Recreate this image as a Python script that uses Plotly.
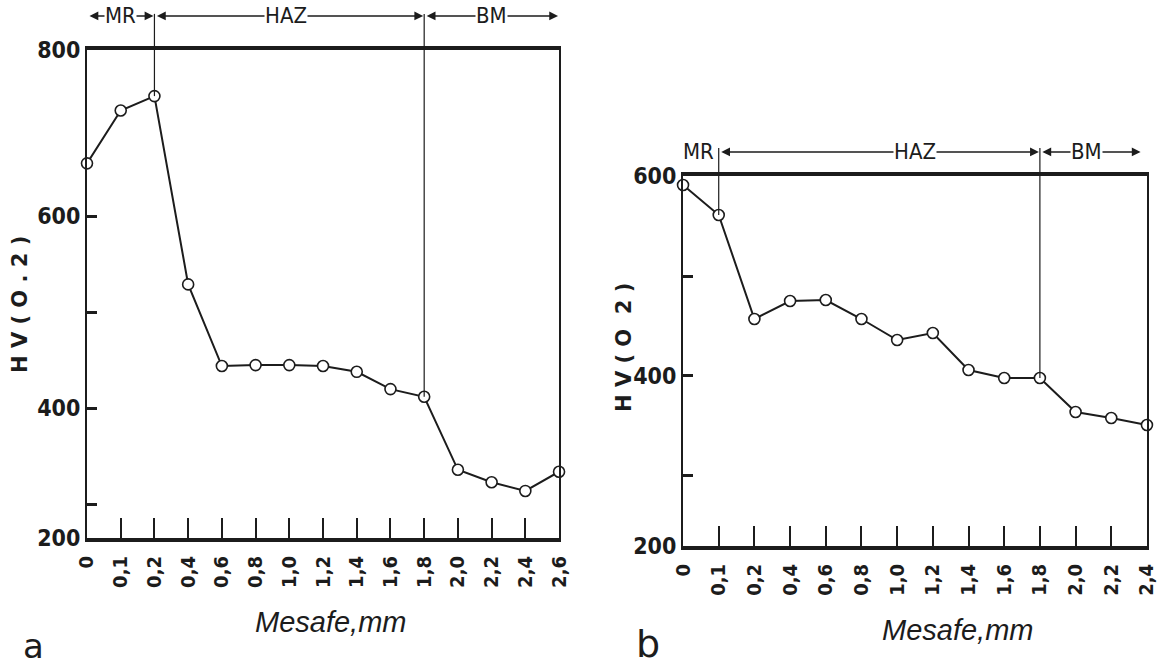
import plotly.graph_objects as go

# ---------------- data ----------------
# Panel a
xa_labels = ["0", "0,1", "0,2", "0,4", "0,6", "0,8", "1,0", "1,2", "1,4",
             "1,6", "1,8", "2,0", "2,2", "2,4", "2,6"]
hv_a = [655, 710, 725, 529, 444, 445, 445, 444, 438, 420, 412, 336, 323, 314, 334]

# Panel b
xb_labels = ["0", "0,1", "0,2", "0,4", "0,6", "0,8", "1,0", "1,2", "1,4",
             "1,6", "1,8", "2,0", "2,2", "2,4"]
hv_b = [591, 561, 457, 475, 476, 457, 436, 443, 406, 398, 398, 364, 358, 351]

# zone boundaries (MR/HAZ, HAZ/BM)
bounds_a = ["0,2", "1,8"]
bounds_b = ["0,1", "1,8"]

# y-axis tick labels as printed
ya_ticktext = ["200", "", "400", "", "600", "800"]
yb_ticktext = ["200", "", "400", "", "600"]
inner_ticks = [300, 400, 500, 600]

# ---------------- style ----------------
INK = "#1c1c1c"
COND = "DejaVu Sans Condensed, Liberation Sans Narrow, DejaVu Sans, sans-serif"
YA_RANGE = [265, 773]
YB_RANGE = [230, 600]

fig = go.Figure()

marker = dict(symbol="circle", size=11, color="white", line=dict(color=INK, width=1.6))
fig.add_trace(go.Scatter(x=xa_labels, y=hv_a, mode="lines+markers", xaxis="x", yaxis="y",
                         line=dict(color=INK, width=2), marker=marker, cliponaxis=False,
                         showlegend=False))
fig.add_trace(go.Scatter(x=xb_labels, y=hv_b, mode="lines+markers", xaxis="x2", yaxis="y2",
                         line=dict(color=INK, width=2), marker=marker, cliponaxis=False,
                         showlegend=False))

xcommon = dict(type="category", showline=True, mirror=True, linecolor=INK, linewidth=4,
               ticks="inside", ticklen=20, tickwidth=2, tickcolor=INK, tickangle=-90,
               showgrid=False, zeroline=False, automargin=False,
               tickfont=dict(family=COND, size=20, color=INK, weight="bold"),
               ticklabelstandoff=6)
ycommon = dict(showline=True, mirror=True, linecolor=INK, linewidth=2,
               ticks="inside", ticklen=10, tickwidth=3, tickcolor=INK,
               showgrid=False, zeroline=False, automargin=False,
               tickfont=dict(family=COND, size=23, color=INK, weight="bold"))

fig.update_layout(
    width=1163, height=671,
    margin=dict(l=0, r=0, t=0, b=0, autoexpand=False),
    paper_bgcolor="white", plot_bgcolor="white",
    xaxis=dict(domain=[0.0748, 0.4807], range=[0, len(xa_labels) - 1],
               categoryorder="array", categoryarray=xa_labels, anchor="y", **xcommon),
    yaxis=dict(domain=[0.1982, 0.9255], range=YA_RANGE, anchor="x",
               tickvals=[YA_RANGE[0]] + inner_ticks + [YA_RANGE[1]],
               ticktext=ya_ticktext, **ycommon),
    xaxis2=dict(domain=[0.5873, 0.9862], range=[0, len(xb_labels) - 1],
                categoryorder="array", categoryarray=xb_labels, anchor="y2", **xcommon),
    yaxis2=dict(domain=[0.1863, 0.7377], range=YB_RANGE, anchor="x2",
                tickvals=[YB_RANGE[0]] + inner_ticks[:-1] + [YB_RANGE[1]],
                ticktext=yb_ticktext, **ycommon),
)

# ---------------- zone boundary lines ----------------
def boundary(xname, yname, labels, values, b, top_ext, yrange):
    i = labels.index(b)
    fig.add_shape(type="line", xref=xname, yref=yname, x0=i, x1=i,
                  y0=values[i], y1=yrange[1], line=dict(color=INK, width=1.2))
    fig.add_shape(type="line", xref=xname, yref=yname + " domain", x0=i, x1=i,
                  y0=1, y1=top_ext, line=dict(color=INK, width=1.2))

for b in bounds_a:
    boundary("x", "y", xa_labels, hv_a, b, 1.074, YA_RANGE)
for b in bounds_b:
    boundary("x2", "y2", xb_labels, hv_b, b, 1.076, YB_RANGE)

# ---------------- zone arrows ----------------
def arrow(xname, yname, x0, x1, yd):
    fig.add_annotation(xref=xname, yref=yname + " domain", x=x1, y=yd, text="",
                       showarrow=True, axref=xname, ax=x0, ayref="pixel", ay=0,
                       arrowhead=2, arrowside="end+start", arrowsize=1.1, arrowwidth=1.6,
                       arrowcolor=INK, standoff=1, startstandoff=1)

def zone_text(xname, yname, x, yd, txt):
    fig.add_annotation(xref=xname, yref=yname + " domain", x=x, y=yd, text=txt,
                       xanchor="center", yanchor="middle",
                       showarrow=False, bgcolor="white", borderpad=0,
                       font=dict(family=COND, size=22, color=INK))

ia0, ia1 = xa_labels.index(bounds_a[0]), xa_labels.index(bounds_a[1])
na = len(xa_labels) - 1
arrow("x", "y", 0, ia0, 1.0697)
arrow("x", "y", ia0, ia1, 1.0697)
arrow("x", "y", ia1, na, 1.0697)
zone_text("x", "y", ia0 / 2, 1.0697, "MR")
zone_text("x", "y", 5.9, 1.0697, "HAZ")
zone_text("x", "y", 12.0, 1.0697, "BM")

ib0, ib1 = xb_labels.index(bounds_b[0]), xb_labels.index(bounds_b[1])
nb = len(xb_labels) - 1
arrow("x2", "y2", ib0, ib1, 1.065)
arrow("x2", "y2", ib1, nb - 0.15, 1.065)
zone_text("x2", "y2", 0.42, 1.065, "MR")
zone_text("x2", "y2", 6.5, 1.065, "HAZ")
zone_text("x2", "y2", 11.3, 1.065, "BM")

# ---------------- axis titles & panel letters ----------------
def ptext(x, y, txt, size, family, angle=0, weight="normal"):
    fig.add_annotation(xref="paper", yref="paper", x=x / 1163, y=1 - y / 671,
                       xanchor="center", yanchor="middle", text=txt, textangle=angle,
                       showarrow=False,
                       font=dict(family=family, size=size, color=INK, weight=weight))

SANS = "Liberation Sans, Arial, sans-serif"
ptext(330, 622, "<i>Mesafe,mm</i>", 29, SANS)
ptext(957, 630, "<i>Mesafe,mm</i>", 29, SANS)
ptext(20, 305, "H V ( O . 2 )", 21, "DejaVu Sans, sans-serif", -90, "bold")
ptext(624, 348, "H V ( O  2 )", 21, "DejaVu Sans, sans-serif", -90, "bold")
ptext(33, 646, "a", 34, "DejaVu Sans, sans-serif")
ptext(648, 644, "b", 38, "DejaVu Sans, sans-serif")

fig.write_html("out.html")
